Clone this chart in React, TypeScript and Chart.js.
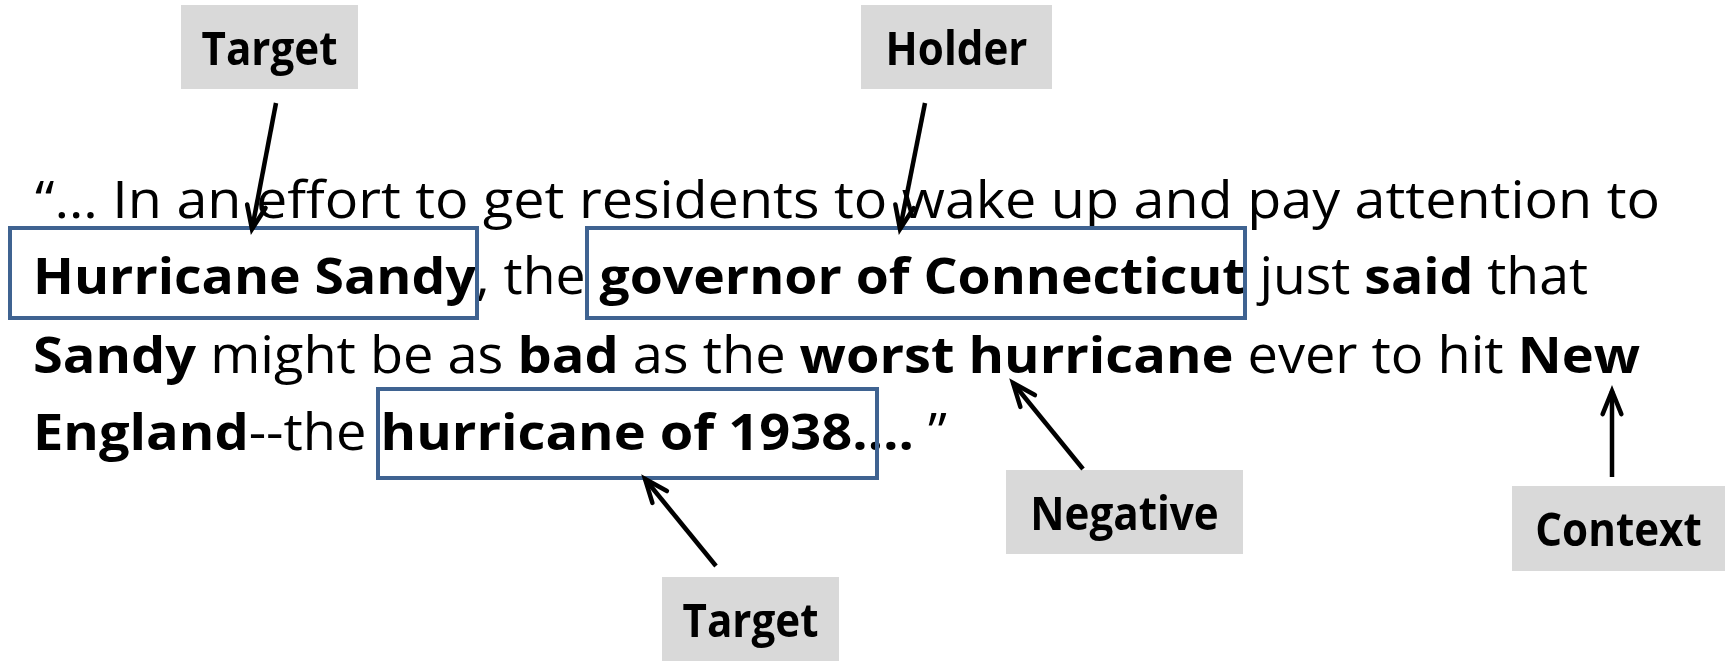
import React, { useEffect, useRef } from "react";
import { Chart, registerables } from "chart.js";

Chart.register(...registerables);

const CANVAS_W = 1727;
const CANVAS_H = 661;
const FAMILY = '"Open Sans", "Noto Sans", "DejaVu Sans", sans-serif';

// ---- content ----
type Seg = [string, boolean];
const line1: Seg[] = [["“… In an effort to get residents to wake up and pay attention to", false]];
const line2: Seg[] = [
  ["Hurricane Sandy", true],
  [", the ", false],
  ["governor of Connecticut", true],
  [" just ", false],
  ["said", true],
  [" that", false],
];
const line3: Seg[] = [
  ["Sandy", true],
  [" might be as ", false],
  ["bad", true],
  [" as the ", false],
  ["worst hurricane", true],
  [" ever to hit ", false],
  ["New", true],
];
const line4: Seg[] = [
  ["England", true],
  ["--the ", false],
  ["hurricane of 1938", true],
  ["….", true],
  [" ”", false],
];
const sentenceLines: Seg[][] = [line1, line2, line3, line4];

const labelNames = ["Target", "Holder", "Negative", "Context", "Target"];

// ---- layout (diagram coordinates, same units as the canvas) ----
const lineStartX = [35, 33, 33, 33];
const lineEndX = [1660, 1588, 1640, 947];
const lineBaseY = [218, 294, 373, 450];

const labelRects = [
  [181, 5, 358, 89],
  [861, 5, 1052, 89],
  [1006, 470, 1243, 554],
  [1512, 486, 1725, 571],
  [662, 577, 839, 661],
];

const spanRects = [
  [10, 228, 477, 318],
  [587, 228, 1245, 318],
  [378, 389, 877, 478],
];

const arrowTails = [
  [276, 103],
  [925, 103],
  [716, 566],
  [1083, 469],
  [1612, 477],
];
const arrowTips = [
  [252, 229],
  [900, 229],
  [645, 479],
  [1013, 383],
  [1612, 391],
];

const TEXT_PX = 51;
const LABEL_PX = 46;
const LABEL_TEXT_W = 136; // width of "Target" in the label

const diagramPlugin = {
  id: "diagram",
  beforeDatasetsDraw(chart: any) {
    const { ctx, scales } = chart;
    const px = (v: number) => scales.x.getPixelForValue(v);
    const py = (v: number) => scales.y.getPixelForValue(v);

    // label boxes
    ctx.save();
    ctx.font = `bold ${LABEL_PX}px ${FAMILY}`;
    const ls = LABEL_TEXT_W / ctx.measureText("Target").width;
    labelRects.forEach((r, i) => {
      const x0 = px(r[0]), y0 = py(r[1]), x1 = px(r[2]), y1 = py(r[3]);
      ctx.fillStyle = "#d9d9d9";
      ctx.fillRect(x0, y0, x1 - x0, y1 - y0);
      ctx.fillStyle = "#000";
      ctx.textBaseline = "alphabetic";
      ctx.textAlign = "center";
      ctx.save();
      ctx.translate((x0 + x1) / 2, y0 + 60);
      ctx.scale(ls, 1);
      ctx.fillText(labelNames[i], 0, 0);
      ctx.restore();
    });
    ctx.restore();

    // sentence text
    ctx.save();
    ctx.fillStyle = "#000";
    ctx.textAlign = "left";
    ctx.textBaseline = "alphabetic";
    sentenceLines.forEach((segs, li) => {
      let total = 0;
      const widths = segs.map(([t, b]) => {
        ctx.font = `${b ? "bold " : ""}${TEXT_PX}px ${FAMILY}`;
        const w = ctx.measureText(t).width;
        total += w;
        return w;
      });
      const x0 = px(lineStartX[li]);
      const x1 = px(lineEndX[li]);
      const s = (x1 - x0) / total;
      ctx.save();
      ctx.translate(x0, py(lineBaseY[li]));
      ctx.scale(s, 1);
      let cx = 0;
      segs.forEach(([t, b], si) => {
        ctx.font = `${b ? "bold " : ""}${TEXT_PX}px ${FAMILY}`;
        ctx.fillText(t, cx, 0);
        cx += widths[si];
      });
      ctx.restore();
    });
    ctx.restore();

    // span boxes
    ctx.save();
    ctx.strokeStyle = "#3f6391";
    ctx.lineWidth = 4;
    spanRects.forEach((r) => {
      const x0 = px(r[0]), y0 = py(r[1]), x1 = px(r[2]), y1 = py(r[3]);
      ctx.strokeRect(x0, y0, x1 - x0, y1 - y0);
    });
    ctx.restore();
  },
  afterDatasetsDraw(chart: any) {
    const { ctx } = chart;
    ctx.save();
    ctx.strokeStyle = "#000";
    ctx.lineWidth = 4.5;
    ctx.lineCap = "round";
    ctx.lineJoin = "miter";
    chart.data.datasets.forEach((_: any, i: number) => {
      const meta = chart.getDatasetMeta(i);
      const a = meta.data[0];
      const b = meta.data[1];
      if (!a || !b) return;
      const ang = Math.atan2(b.y - a.y, b.x - a.x);
      const len = 25;
      const spread = (22 * Math.PI) / 180;
      ctx.beginPath();
      ctx.moveTo(b.x - len * Math.cos(ang - spread), b.y - len * Math.sin(ang - spread));
      ctx.lineTo(b.x, b.y);
      ctx.lineTo(b.x - len * Math.cos(ang + spread), b.y - len * Math.sin(ang + spread));
      ctx.stroke();
    });
    ctx.restore();
  },
};

export default function App() {
  const ref = useRef<HTMLCanvasElement | null>(null);

  useEffect(() => {
    document.body.style.margin = "0";
    document.body.style.background = "#ffffff";
    if (!ref.current) return;
    const datasets = arrowTails.map((t, i) => ({
      label: `arrow${i}`,
      data: [
        { x: t[0], y: t[1] },
        { x: arrowTips[i][0], y: arrowTips[i][1] },
      ],
      showLine: true,
      borderColor: "#000",
      backgroundColor: "#000",
      borderWidth: 4.5,
      pointRadius: 0,
      pointHoverRadius: 0,
      borderCapStyle: "butt",
      clip: false,
    }));
    const chart = new Chart(ref.current, {
      type: "scatter",
      data: { datasets: datasets as any },
      options: {
        animation: false,
        responsive: false,
        events: [],
        layout: { padding: 0 },
        plugins: { legend: { display: false }, tooltip: { enabled: false } },
        scales: {
          x: { type: "linear", min: 0, max: CANVAS_W, display: false },
          y: { type: "linear", min: 0, max: CANVAS_H, reverse: true, display: false },
        },
      },
      plugins: [diagramPlugin],
    });
    let alive = true;
    if ((document as any).fonts) {
      Promise.all([
        (document as any).fonts.load(`${TEXT_PX}px "Open Sans"`),
        (document as any).fonts.load(`bold ${TEXT_PX}px "Open Sans"`),
      ])
        .then(() => {
          if (alive) chart.draw();
        })
        .catch(() => {});
    }
    return () => {
      alive = false;
      chart.destroy();
    };
  }, []);

  return (
    <div style={{ width: CANVAS_W, height: CANVAS_H, background: "#fff" }}>
      <canvas ref={ref} width={CANVAS_W} height={CANVAS_H} style={{ display: "block" }} />
    </div>
  );
}
